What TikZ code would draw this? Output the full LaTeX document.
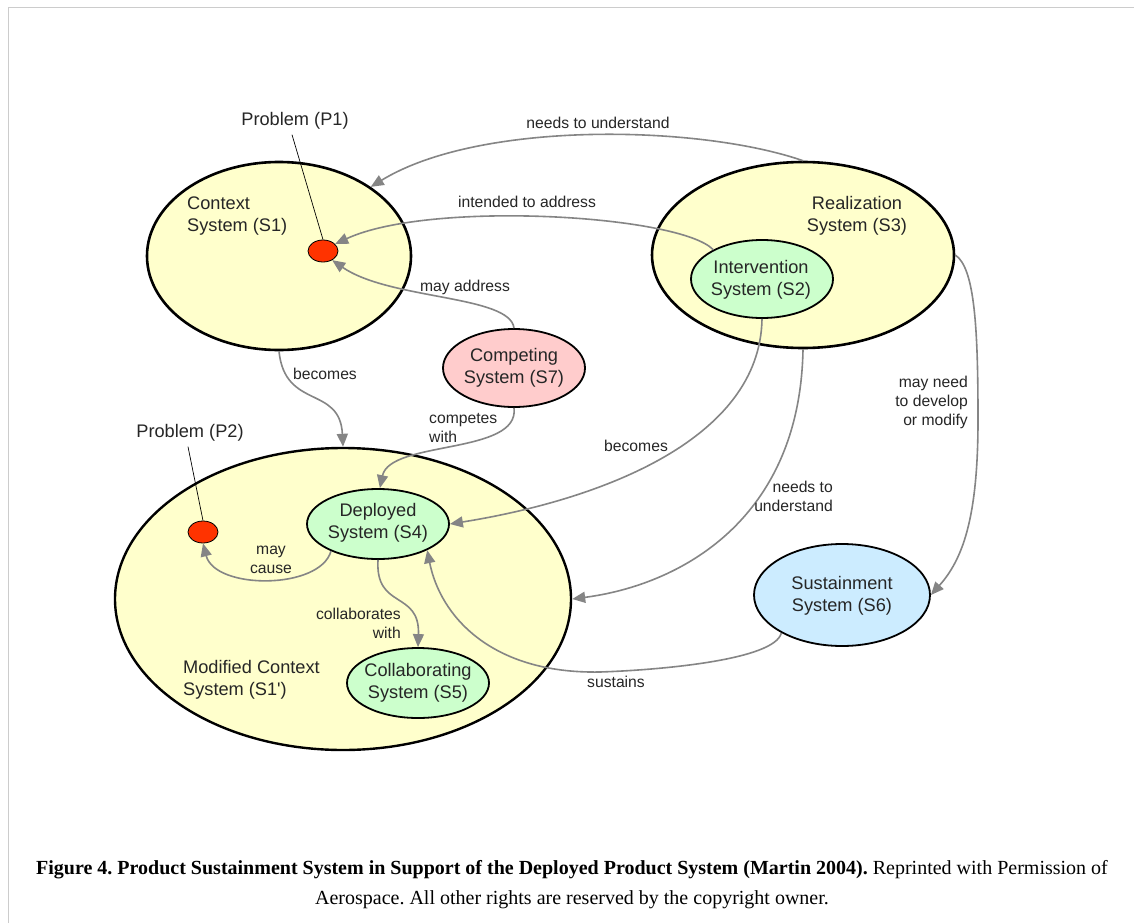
\documentclass[tikz,border=0pt]{standalone}
\usepackage{fontspec}
\setmainfont{Liberation Serif}
\newfontfamily\arialf{Liberation Sans}
\usetikzlibrary{arrows.meta,shapes.geometric}
\definecolor{sysyellow}{HTML}{FFFFCC}
\definecolor{sysgreen}{HTML}{CCFFCC}
\definecolor{syspink}{HTML}{FFCCCC}
\definecolor{sysblue}{HTML}{CCECFF}
\definecolor{probred}{HTML}{FF3300}
\definecolor{linkgray}{HTML}{858585}
\definecolor{framegray}{HTML}{CCCCCC}
\frenchspacing
\begin{document}
\begin{tikzpicture}[x=1pt,y=-1pt,
  sysbig/.style={ellipse, draw=black, line width=2.6pt, fill=sysyellow, inner sep=0pt},
  syssmall/.style={ellipse, draw=black, line width=1.8pt, inner sep=0pt, minimum width=142pt},
  probdot/.style={ellipse, draw=black, line width=0.8pt, fill=probred, minimum width=30pt, minimum height=22pt, inner sep=0pt},
  nodetext/.style={font=\arialf\fontsize{18.2}{22.5}\selectfont, text=black!85, align=center, inner sep=0pt},
  linktext/.style={font=\arialf\fontsize{15.7}{19}\selectfont, text=black!85, inner sep=0pt},
  link/.style={draw=linkgray, line width=1.6pt, -{Triangle[length=13pt,width=11pt]}},
  pointer/.style={draw=black, line width=0.7pt},
  captiontext/.style={font=\fontsize{20}{24}\selectfont, inner sep=0pt},
]
\useasboundingbox (0,0) rectangle (1134,923);
\fill[white] (0,0) rectangle (1134,923);
\draw[framegray, line width=1pt] (8,923) -- (8,8) -- (1134,8);

% big ellipses
\node[sysbig, minimum width=264pt, minimum height=188pt] (s1) at (279,256) {};
\node[sysbig, minimum width=302pt, minimum height=186pt] (s3) at (803,255) {};
\node[sysbig, line width=2.4pt, minimum width=456pt, minimum height=302pt] (s1p) at (343,599) {};

% small ellipses
\node[syssmall, fill=sysgreen, minimum height=78pt] (s2) at (762,279) {};
\node[syssmall, fill=syspink, minimum height=78pt] (s7) at (514,368) {};
\node[syssmall, fill=sysgreen, minimum height=70pt] (s4) at (378,524) {};
\node[syssmall, fill=sysgreen, minimum height=70pt] (s5) at (418,683) {};
\node[syssmall, fill=sysblue, minimum width=176pt, minimum height=102pt] (s6) at (842,595) {};

% problem dots
\node[probdot] (p1) at (323,251) {};
\node[probdot] (p2) at (203,532) {};

% node texts
\node[nodetext, anchor=west, align=left] (t1) at (187,216) {Context\\System (S1)};
\node[nodetext] (t3) at (857,216) {Realization\\System (S3)};
\node[nodetext, anchor=west, align=left] (t1p) at (183,680) {Modified Context\\System (S1')};
\node[nodetext] (t2) at (761,280) {Intervention\\System (S2)};
\node[nodetext] (t7) at (514,368) {Competing\\System (S7)};
\node[nodetext] (t4) at (378,523) {Deployed\\System (S4)};
\node[nodetext] (t5) at (418,683) {Collaborating\\System (S5)};
\node[nodetext] (t6) at (842,596) {Sustainment\\System (S6)};
\node[nodetext] (p1lab) at (295,121) {Problem (P1)};
\node[nodetext] (p2lab) at (190,433) {Problem (P2)};

% pointer lines
\draw[pointer] ([xshift=-3pt,yshift=-5pt]p1lab.south) -- (p1.north);
\draw[pointer] ([xshift=-2pt,yshift=-5pt]p2lab.south) -- (p2.north);

% connectors
\draw[link] (s3.north) .. controls (700,125) and (480,120) .. (s1.37);
\draw[link] (s2.149) .. controls (680,215) and (430,200) .. (p1.30);
\draw[link] (s7.north) .. controls (510,295) and (390,300) .. (p1.315);
\draw[link] (s1.south) .. controls (285,410) and (340,385) .. (s1p.north);
\draw[link] (s7.south) .. controls (520,455) and (390,440) .. (s4.87);
\draw[link] (s4.210) .. controls (320,590) and (215,590) .. (p2.south);
\draw[link] (s4.south) .. controls (375,610) and (420,590) .. (s5.north);
\draw[link] (s2.south) .. controls (760,440) and (600,500) .. (s4.east);
\draw[link] (s3.south) .. controls (800,520) and (680,585) .. (s1p.east);
\draw[link] (s3.east) .. controls (975,268) and (978,330) .. (978,420) .. controls (978,520) and (962,560) .. (s6.east);
\draw[link] (s6.212) .. controls (775,660) and (660,670) .. (600,672) .. controls (490,674) and (440,615) .. (s4.332);

% connector labels
\node[linktext] (l1) at (598,123) {needs to understand};
\node[linktext] (l2) at (527,202) {intended to address};
\node[linktext] (l3) at (465,287) {may address};
\node[linktext] (l4) at (325,374) {becomes};
\node[linktext, anchor=west, align=left] (l5) at (429,428) {competes\\with};
\node[linktext, align=center] (l6) at (271,560) {may\\cause};
\node[linktext, anchor=east, align=right] (l7) at (401,623) {collaborates\\with};
\node[linktext] (l8) at (636,446) {becomes};
\node[linktext, anchor=east, align=right] (l9) at (833,496) {needs to\\understand};
\node[linktext, anchor=east, align=right] (l10) at (968,402) {may need\\to develop\\or modify};
\node[linktext] (l11) at (616,682) {sustains};

% caption
\node[captiontext] (cap1) at (572,870) {\textbf{Figure 4. Product Sustainment System in Support of the Deployed Product System (Martin 2004).} Reprinted with Permission of};
\node[captiontext] (cap2) at (572,900) {Aerospace. All other rights are reserved by the copyright owner.};
\end{tikzpicture}
\end{document}
